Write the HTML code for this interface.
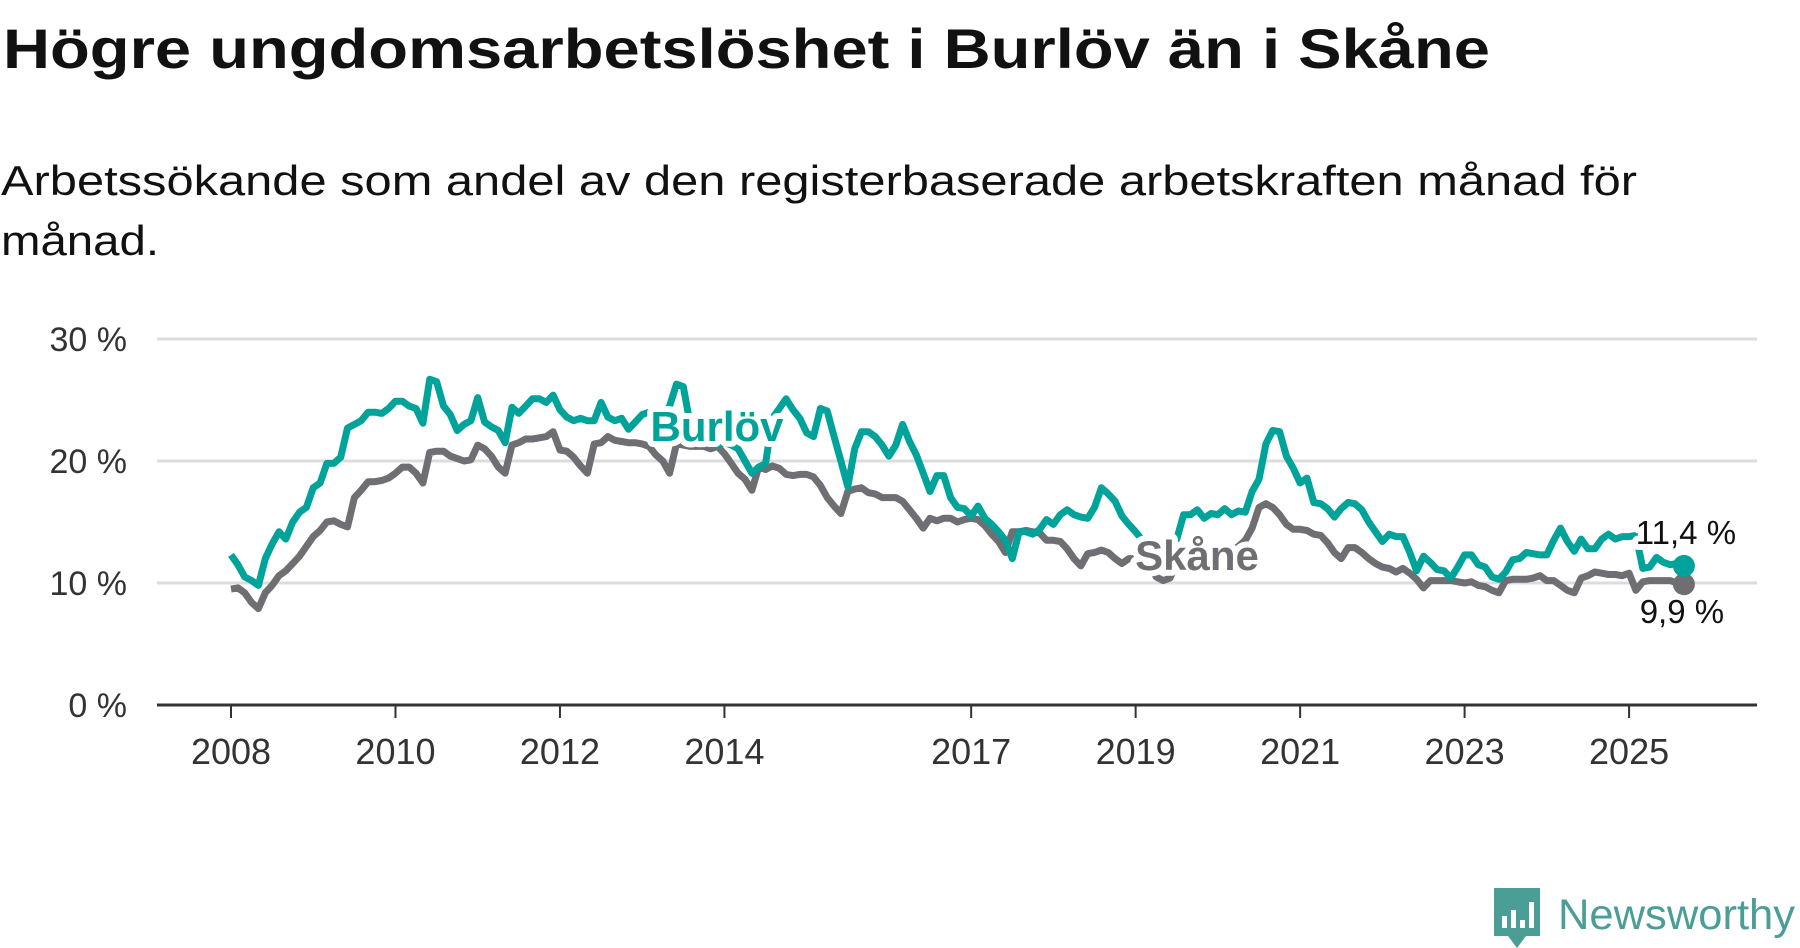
<!DOCTYPE html>
<html><head><meta charset="utf-8"><style>
html,body{margin:0;padding:0;background:#fff;}
svg{display:block;font-family:"Liberation Sans",sans-serif;}
</style></head><body>
<svg id="chart" width="1800" height="948" viewBox="0 0 1800 948">
<text x="3" y="68" font-size="56" font-weight="bold" fill="#111" textLength="1487" lengthAdjust="spacingAndGlyphs">Högre ungdomsarbetslöshet i Burlöv än i Skåne</text>
<text x="1" y="195" font-size="42" fill="#111" textLength="1636" lengthAdjust="spacingAndGlyphs">Arbetssökande som andel av den registerbaserade arbetskraften månad för</text>
<text x="1" y="255" font-size="42" fill="#111" textLength="158" lengthAdjust="spacingAndGlyphs">månad.</text>
<g id="grid"></g>
<g id="yaxis"></g>
<g id="xaxis"></g>
<g id="series"></g>
<g id="labels"></g>
<g>
<path d="M1494 888 h46 v48 h-14 l-9 12 l-9 -12 h-14 z" fill="#4a9e96"/>
<rect x="1502" y="916" width="5" height="12" fill="#fff"/>
<rect x="1511" y="910" width="5" height="18" fill="#fff"/>
<rect x="1520" y="920" width="5" height="8" fill="#fff"/>
<rect x="1529" y="902" width="5" height="26" fill="#fff"/>
<text x="1558" y="929" font-size="43" fill="#4a9e96" textLength="237" lengthAdjust="spacingAndGlyphs">Newsworthy</text>
</g>
</svg>
<script>
const startYear = 2008;
const yTicks = [0, 10, 20, 30];
const yTickLabels = ["0 %", "10 %", "20 %", "30 %"];
const xTicks = [2008, 2010, 2012, 2014, 2017, 2019, 2021, 2023, 2025];
const burlov = [
12.3,11.5,10.5,10.2,9.8,12.0,13.2,14.2,13.6,15.0,15.8,16.2,
17.8,18.2,19.8,19.8,20.3,22.7,23.0,23.3,24.0,24.0,23.9,24.3,
24.9,24.9,24.5,24.3,23.1,26.7,26.5,24.5,23.8,22.5,23.0,23.3,
25.2,23.2,22.8,22.5,21.5,24.4,23.9,24.5,25.1,25.1,24.8,25.4,
24.2,23.6,23.3,23.5,23.3,23.3,24.8,23.6,23.3,23.5,22.6,23.2,
23.8,24.0,23.5,23.8,24.5,26.3,26.1,23.0,22.0,21.5,21.4,21.3,
21.5,21.3,21.0,20.0,19.0,19.5,19.8,23.5,24.3,25.1,24.2,23.5,
22.3,22.0,24.3,24.1,22.0,20.0,17.9,21.0,22.4,22.4,22.0,21.3,
20.4,21.3,23.0,21.6,20.5,19.0,17.5,18.8,18.8,17.0,16.2,16.1,
15.5,16.3,15.3,14.8,14.2,13.5,12.0,14.2,14.2,14.0,14.4,15.2,
14.8,15.6,16.0,15.6,15.4,15.3,16.2,17.8,17.3,16.7,15.5,14.8,
14.2,13.5,12.9,12.0,12.0,13.2,13.6,15.6,15.6,16.0,15.3,15.7,
15.6,16.1,15.6,15.9,15.8,17.5,18.5,21.4,22.5,22.4,20.4,19.4,
18.2,18.6,16.6,16.5,16.1,15.4,16.1,16.6,16.5,16.0,15.0,14.2,
13.4,14.0,13.8,13.8,12.5,11.0,12.2,11.7,11.1,11.0,10.4,11.3,
12.3,12.3,11.5,11.3,10.5,10.3,10.9,11.9,12.0,12.5,12.4,12.3,
12.3,13.5,14.5,13.4,12.6,13.6,12.8,12.8,13.6,14.0,13.6,13.8,
13.8,13.9,11.2,11.3,12.1,11.7,11.5,11.6,11.4];
const skane = [
9.5,9.6,9.2,8.4,7.9,9.2,9.8,10.6,11.0,11.6,12.2,13.0,
13.8,14.3,15.0,15.1,14.8,14.6,17.0,17.6,18.3,18.3,18.4,18.6,
19.0,19.5,19.5,19.0,18.2,20.7,20.8,20.8,20.4,20.2,20.0,20.1,
21.3,21.0,20.4,19.5,19.0,21.3,21.5,21.8,21.8,21.9,22.0,22.4,
20.9,20.8,20.3,19.6,19.0,21.4,21.5,22.0,21.7,21.6,21.5,21.5,
21.4,21.2,20.5,20.0,19.0,21.4,21.3,21.2,21.2,21.2,21.0,21.2,
20.6,19.8,19.0,18.5,17.6,19.5,19.3,19.6,19.4,18.9,18.8,18.9,
18.9,18.7,18.0,17.0,16.3,15.7,17.5,17.7,17.8,17.4,17.3,17.0,
17.0,17.0,16.7,16.0,15.3,14.5,15.3,15.1,15.3,15.3,15.0,15.2,
15.3,15.2,14.7,14.0,13.4,12.5,14.2,14.2,14.3,14.2,14.1,13.5,
13.5,13.4,12.8,12.0,11.4,12.4,12.5,12.7,12.5,12.0,11.6,12.0,
12.0,12.0,11.6,10.5,10.2,10.4,11.6,11.8,12.0,12.2,12.2,12.2,
12.5,12.4,12.6,13.0,13.5,14.5,16.2,16.5,16.2,15.6,14.8,14.4,
14.4,14.3,14.0,13.9,13.3,12.5,12.0,12.9,12.9,12.5,12.0,11.6,
11.3,11.2,10.9,11.2,10.8,10.3,9.6,10.2,10.2,10.2,10.2,10.1,
10.0,10.1,9.8,9.7,9.4,9.2,10.2,10.3,10.3,10.3,10.4,10.6,
10.2,10.2,9.8,9.4,9.2,10.4,10.6,10.9,10.8,10.7,10.7,10.6,
10.8,9.4,10.1,10.2,10.2,10.2,10.2,10.0,9.9];
const endLabels = ["11,4 %", "9,9 %"];

const NS = "http://www.w3.org/2000/svg";
const X0 = 157, X1 = 1757;
function xYear(t){ return 231 + (t - 2008) * 82.24; }
function xIdx(i){ return xYear(startYear + i / 12); }
function yVal(v){ return 705 - v * 12.2; }
function mk(tag, attrs, parent){ const e = document.createElementNS(NS, tag); for (const k in attrs) e.setAttribute(k, attrs[k]); parent.appendChild(e); return e; }

const grid = document.getElementById('grid');
const yaxis = document.getElementById('yaxis');
yTicks.forEach((v, i) => {
  if (v > 0) {
    const g = mk('line', {x1: X0, x2: X1, y1: yVal(v), y2: yVal(v), stroke: '#dcdcdc', 'stroke-width': 3}, grid);
    
    
  }
  const t = mk('text', {x: 127, y: yVal(v) + 12, 'text-anchor': 'end', 'font-size': 34, fill: '#333'}, yaxis);
  t.textContent = yTickLabels[i];
  
  
});
const xaxis = document.getElementById('xaxis');
const ax = mk('line', {x1: X0, x2: X1, y1: 705, y2: 705, stroke: '#333', 'stroke-width': 3}, xaxis);


xTicks.forEach(yr => {
  const x = xYear(yr);
  const tk = mk('line', {x1: x, x2: x, y1: 705, y2: 718, stroke: '#333', 'stroke-width': 2}, xaxis);
  
  
  const t = mk('text', {x: x, y: 764, 'text-anchor': 'middle', 'font-size': 36, fill: '#333'}, xaxis);
  t.textContent = String(yr);
  
  
});

const series = document.getElementById('series');
function drawLine(data, color, name){
  const d = data.map((v, i) => (i ? 'L' : 'M') + xIdx(i).toFixed(1) + ' ' + yVal(v).toFixed(1)).join(' ');
  const p = mk('path', {d: d, fill: 'none', stroke: color, 'stroke-width': 7, 'stroke-linejoin': 'round'}, series);
  
  
  const n = data.length - 1;
  const c = mk('circle', {cx: xIdx(n), cy: yVal(data[n]), r: 11, fill: color}, series);
  
  
}
drawLine(skane, '#6f6e73', 'skane');
drawLine(burlov, '#00a39a', 'burlov');

const labels = document.getElementById('labels');
function lbl(txt, x, y, size, color, weight, anchor, name){
  const t = mk('text', {x: x, y: y, 'font-size': size, fill: color, 'font-weight': weight, 'text-anchor': anchor, stroke: '#fff', 'stroke-width': 12, 'paint-order': 'stroke', 'stroke-linejoin': 'round'}, labels);
  t.textContent = txt;
  
  
}
lbl('Burlöv', 717, 441, 42, '#00a39a', 'bold', 'middle', 'burlov-label');
lbl('Skåne', 1197, 570, 42, '#6f6e73', 'bold', 'middle', 'skane-label');
const nB = burlov.length - 1, nS = skane.length - 1;
lbl(endLabels[0], xIdx(nB) + 2, yVal(burlov[nB]) - 22, 33, '#111', 'normal', 'middle', 'burlov-end-value');
lbl(endLabels[1], xIdx(nS) - 2, yVal(skane[nS]) + 39, 33, '#111', 'normal', 'middle', 'skane-end-value');
</script>
</body></html>
